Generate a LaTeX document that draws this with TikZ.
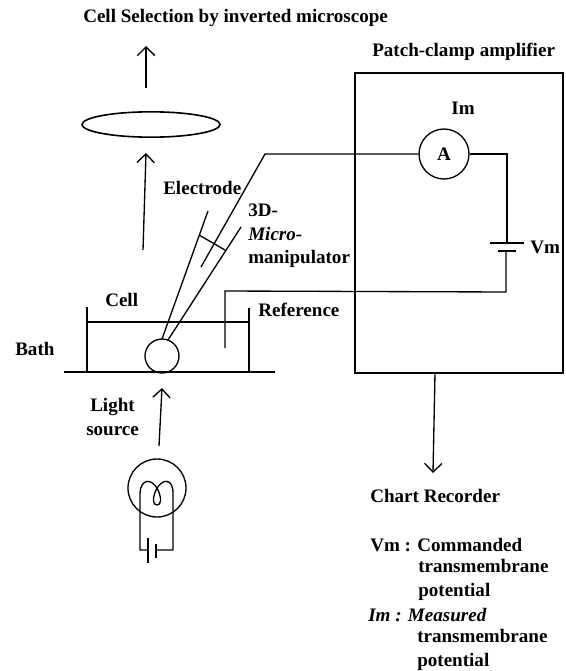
\documentclass[tikz,border=0pt]{standalone}
\usepackage{fontspec}
\setmainfont{Liberation Serif}
\usepackage{tikz}
\usetikzlibrary{arrows.meta, positioning, shapes.geometric}
\tikzstyle{lbl} = [inner sep=0pt, anchor=west, align=left, font=\bfseries\fontsize{14.3pt}{17.6pt}\selectfont]
\tikzstyle{wire} = [line width=1pt]
\tikzstyle{arrow} = [line width=1pt, -{Straight Barb[length=6.5pt, width=13pt, line width=1pt]}]
\tikzstyle{round} = [circle, draw, line width=1pt, inner sep=0pt]

\begin{document}
\begin{tikzpicture}[x=0.75pt, y=-0.75pt]
    \useasboundingbox (0,0) rectangle (566,671);
    \node[lbl] (title) at (83,18) {Cell Selection by inverted microscope};
    \node[lbl] (amptitle) at (372,52) {Patch-clamp amplifier};
    \node[lbl] (electrode) at (163,188) {Electrode};
    \node[lbl] (manip) at (248,236) {3D-\\\textit{Micro-}\\manipulator};
    \node[lbl] (cellname) at (105,300) {Cell};
    \node[lbl] (reference) at (258,310) {Reference};
    \node[lbl] (bath) at (15,349) {Bath};
    \node[lbl] (light) at (86,417) {\hspace{3pt}Light\\source};
    \node[lbl] (chart) at (370,496) {Chart Recorder};
    \node[lbl] (vmtext) at (370,545) {Vm : Commanded};
    \node[lbl] (vmmore) at (418,580) {transmembrane\\potential};
    \node[lbl] (imtext) at (368,615) {\textit{Im : Measured}};
    \node[lbl] (immore) at (417,650) {transmembrane\\potential};

    \node[draw, line width=1.2pt, minimum width=156pt, minimum height=225pt, inner sep=0pt] (amp) at (459,223) {};
    \node[round, minimum size=37.5pt, font=\bfseries\fontsize{14.3pt}{16pt}\selectfont] (ammeter) at (444,154) {A};
    \node[lbl, anchor=center] (imlabel) at (463,108) {Im};
    \node[lbl] (vmlabel) at (530,247) {Vm};
    \node[ellipse, draw, line width=1.2pt, minimum width=103.5pt, minimum height=19pt, inner sep=0pt] (lens) at (151,124.5) {};
    \node[round, minimum size=25.5pt] (cell) at (162,356) {};
    \node[round, minimum size=43.5pt] (bulb) at (157,488) {};

    \coordinate (viewout) at (146,46);
    \coordinate (viewin) at (146,88);
    \coordinate (upper) at (146,153);
    \coordinate (lower) at (143,250);
    \coordinate (lightout) at (162,388);
    \coordinate (lightin) at (159,446);
    \coordinate (recout) at (435,373);
    \coordinate (recin) at (433,473);

    \draw[arrow] (viewin) -- (viewout);
    \draw[arrow] (lower) -- (upper);
    \draw[arrow] (lightin) -- (lightout);
    \draw[arrow] (recout) -- (recin);

    \coordinate (bathleft) at (64,372);
    \coordinate (bathright) at (275,372);
    \coordinate (dishtl) at (87,307);
    \coordinate (dishbl) at (87,372);
    \coordinate (dishtr) at (249,308);
    \coordinate (dishbr) at (249,372);
    \coordinate (levell) at (87,322);
    \coordinate (levelr) at (249,322);
    \draw[wire, line width=1.3pt] (bathleft) -- (bathright);
    \draw[wire] (dishtl) -- (dishbl);
    \draw[wire] (dishtr) -- (dishbr);
    \draw[wire] (levell) -- (levelr);

    \coordinate (tipl) at (162,339);
    \coordinate (tipr) at (168,340);
    \coordinate (backl) at (208,211);
    \coordinate (backr) at (241,227);
    \coordinate (holdl) at (199,235);
    \coordinate (holdr) at (225,250);
    \coordinate (wirein) at (201,267);
    \coordinate (wirebend) at (265,154);
    \draw[wire] (tipl) -- (backl);
    \draw[wire] (tipr) -- (backr);
    \draw[wire] (holdl) -- (holdr);
    \draw[wire] (wirein) -- (wirebend) -- (ammeter.west);

    \coordinate (corner) at (507,154);
    \coordinate (platetop) at (507,243);
    \coordinate (platelow) at (506,251);
    \coordinate (return) at (506,292);
    \coordinate (refbend) at (225,291);
    \coordinate (reftip) at (225,348);
    \coordinate (longl) at (490,243);
    \coordinate (longr) at (524,243);
    \coordinate (shortl) at (498,251);
    \coordinate (shortr) at (516,251);
    \draw[wire] (ammeter.east) -- (corner) -- (platetop);
    \draw[wire] (longl) -- (longr);
    \draw[wire] (shortl) -- (shortr);
    \draw[wire] (platelow) -- (return) -- (refbend) -- (reftip);

    \coordinate (leadl) at (140,550);
    \coordinate (leadr) at (173,550);
    \coordinate (cellp) at (148,550);
    \coordinate (celln) at (156,550);
    \coordinate (ptop) at (148,538);
    \coordinate (pbot) at (148,563);
    \coordinate (ntop) at (156,544);
    \coordinate (nbot) at (156,558);
    \draw[wire] (cellp) -- (leadl) -- (140,493)
      .. controls (141,478) and (152,478) .. (158,490)
      .. controls (162,499) and (161,505) .. (157,505)
      .. controls (153,505) and (152,499) .. (156,490)
      .. controls (162,478) and (173,478) .. (173,493)
      -- (leadr) -- (celln);
    \draw[wire] (ptop) -- (pbot);
    \draw[wire] (ntop) -- (nbot);
  \end{tikzpicture}
\end{document}
